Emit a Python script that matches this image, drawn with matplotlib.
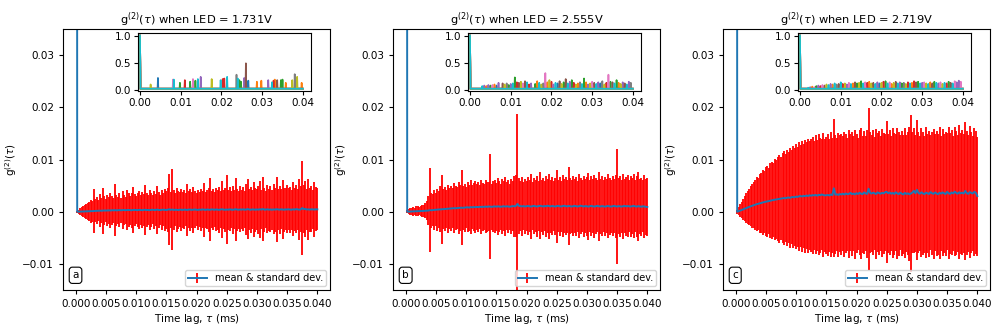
import numpy as np
import matplotlib
matplotlib.use('Agg')
import matplotlib.pyplot as plt

# lag grid (ms) for the averaged curves
tau = np.arange(161) * 0.00025

leds = ['1.731V', '2.555V', '2.719V']
panel_tags = ['a', 'b', 'c']

# mean in units of 1e-5, standard deviation in units of 1e-4
mean_a = [100000, 0, 0, 2, 3, 4, 5, 6, 8, 9,
          10, 12, 14, 15, 16, 18, 20, 19, 22, 24,
          22, 25, 26, 24, 28, 27, 30, 26, 29, 31,
          28, 30, 33, 29, 31, 34, 30, 28, 33, 35,
          32, 30, 36, 33, 29, 35, 37, 32, 34, 30,
          36, 38, 33, 35, 40, 34, 31, 37, 39, 35,
          33, 38, 45, 36, 42, 34, 39, 37, 33, 40,
          38, 35, 41, 37, 34, 42, 39, 36, 40, 43,
          37, 35, 41, 38, 44, 39, 36, 42, 40, 37,
          45, 41, 38, 43, 39, 36, 44, 47, 40, 38,
          42, 39, 45, 41, 37, 43, 48, 40, 38, 44,
          41, 46, 39, 43, 50, 42, 38, 45, 41, 39,
          44, 40, 47, 42, 52, 39, 43, 46, 40, 44,
          38, 45, 41, 48, 43, 40, 46, 42, 39, 45,
          43, 47, 41, 39, 46, 42, 50, 44, 40, 45,
          70, 48, 55, 43, 46, 41, 47, 44, 42, 46,
          45]
std_a = [0, 2, 4, 6, 8, 10, 12, 14, 16, 18,
         22, 20, 42, 22, 26, 20, 32, 24, 44, 28,
         22, 30, 26, 34, 28, 24, 50, 30, 26, 32,
         24, 36, 28, 26, 38, 32, 28, 34, 44, 30,
         26, 32, 36, 28, 34, 30, 48, 32, 28, 38,
         32, 28, 36, 30, 46, 34, 28, 38, 32, 40,
         36, 42, 68, 34, 78, 38, 32, 42, 36, 34,
         40, 34, 38, 32, 50, 36, 40, 34, 44, 36,
         32, 38, 34, 40, 36, 52, 34, 38, 42, 60,
         36, 40, 34, 42, 38, 44, 36, 55, 38, 42,
         66, 38, 42, 36, 46, 38, 60, 40, 36, 44,
         38, 42, 36, 48, 58, 40, 44, 38, 52, 42,
         40, 46, 55, 38, 62, 42, 36, 46, 40, 44,
         38, 48, 42, 62, 40, 46, 38, 56, 42, 40,
         46, 40, 44, 38, 52, 42, 46, 40, 58, 44,
         90, 46, 54, 40, 58, 42, 44, 38, 52, 42,
         40]

mean_b = [100000, 0, 2, 4, 5, 6, 8, 9, 10, 12,
          13, 15, 16, 18, 20, 22, 30, 28, 32, 35,
          38, 40, 42, 45, 48, 50, 52, 55, 58, 60,
          62, 65, 68, 66, 70, 72, 75, 78, 74, 80,
          82, 85, 80, 88, 84, 90, 86, 92, 88, 95,
          90, 96, 92, 98, 94, 100, 96, 93, 99, 102,
          97, 103, 99, 95, 101, 105, 98, 104, 100, 96,
          102, 108, 104, 110, 150, 112, 106, 102, 108, 100,
          105, 110, 103, 98, 107, 112, 104, 100, 108, 113,
          106, 101, 109, 104, 115, 107, 102, 110, 105, 99,
          108, 112, 104, 100, 109, 114, 106, 102, 110, 105,
          99, 107, 112, 104, 100, 108, 115, 106, 101, 109,
          104, 98, 107, 111, 103, 99, 106, 112, 104, 100,
          108, 103, 97, 105, 110, 102, 98, 106, 112, 104,
          100, 107, 103, 98, 106, 111, 102, 108, 104, 99,
          106, 112, 103, 98, 107, 101, 95, 104, 99, 93,
          90]
std_b = [0, 3, 5, 7, 6, 8, 7, 10, 9, 8,
         10, 12, 11, 14, 18, 28, 80, 34, 30, 38,
         32, 40, 36, 44, 66, 38, 42, 36, 46, 40,
         44, 38, 48, 42, 40, 50, 44, 72, 42, 46,
         40, 48, 44, 52, 42, 46, 50, 44, 48, 42,
         52, 46, 44, 50, 48, 46, 100, 44, 48, 50,
         46, 54, 48, 44, 52, 48, 56, 46, 50, 44,
         52, 48, 58, 60, 172, 54, 48, 56, 46, 52,
         48, 56, 50, 62, 46, 54, 50, 58, 48, 64,
         50, 54, 48, 58, 52, 62, 50, 56, 48, 54,
         70, 50, 56, 48, 60, 52, 56, 50, 74, 54,
         50, 58, 52, 56, 48, 62, 54, 50, 58, 52,
         56, 64, 50, 58, 52, 60, 54, 50, 66, 52,
         58, 50, 56, 52, 62, 54, 50, 58, 52, 60,
         110, 54, 58, 50, 62, 52, 56, 60, 50, 58,
         54, 62, 50, 58, 66, 52, 56, 50, 60, 54,
         56]

mean_c = [100000, 0, 10, 22, 34, 46, 58, 70, 82, 94,
          105, 115, 125, 135, 145, 152, 160, 170, 178, 185,
          192, 200, 205, 212, 218, 225, 230, 236, 240, 246,
          250, 256, 262, 258, 268, 272, 266, 278, 282, 276,
          290, 284, 296, 300, 292, 305, 298, 310, 302, 315,
          306, 318, 312, 322, 308, 325, 316, 330, 320, 312,
          315, 320, 312, 330, 318, 450, 325, 335, 322, 340,
          330, 345, 328, 350, 335, 342, 360, 338, 348, 332,
          355, 340, 362, 345, 338, 370, 350, 342, 440, 360,
          348, 365, 352, 340, 370, 358, 345, 362, 350, 375,
          380, 355, 368, 345, 360, 340, 372, 350, 338, 365,
          345, 330, 360, 340, 352, 335, 348, 368, 400, 355,
          420, 360, 345, 372, 350, 338, 365, 352, 340, 375,
          355, 342, 368, 350, 335, 362, 348, 370, 352, 340,
          380, 355, 342, 368, 350, 385, 360, 345, 372, 352,
          365, 348, 400, 358, 342, 375, 360, 350, 380, 362,
          300]
std_c = [0, 4, 8, 12, 16, 20, 24, 28, 32, 34,
         38, 42, 44, 48, 52, 50, 56, 58, 62, 60,
         66, 68, 64, 72, 74, 70, 78, 76, 80, 84,
         80, 86, 90, 84, 92, 88, 96, 90, 98, 94,
         100, 96, 104, 98, 106, 100, 108, 102, 110, 104,
         108, 112, 104, 114, 106, 116, 110, 106, 118, 108,
         112, 116, 108, 120, 110, 132, 114, 108, 118, 112,
         116, 110, 120, 114, 108, 122, 112, 118, 110, 124,
         114, 108, 120, 126, 112, 118, 110, 122, 155, 116,
         112, 120, 108, 124, 114, 118, 110, 122, 116, 112,
         136, 114, 120, 110, 124, 116, 112, 126, 118, 110,
         120, 114, 124, 112, 118, 128, 150, 116, 120, 112,
         134, 116, 110, 124, 118, 112, 126, 114, 120, 110,
         118, 124, 112, 120, 116, 126, 110, 122, 114, 118,
         112, 126, 116, 120, 110, 124, 118, 112, 128, 116,
         120, 114, 132, 118, 112, 126, 116, 110, 122, 118,
         114]

# individual runs (inset): spikes above the baseline, (tau, height, colour index)
spikes_a = [(0.0026, 0.10, 8), (0.0044, 0.22, 0), (0.0081, 0.19, 6), (0.0083, 0.19, 9),
            (0.0098, 0.13, 2), (0.0110, 0.18, 3), (0.0123, 0.15, 2), (0.0130, 0.20, 6),
            (0.0136, 0.17, 2), (0.0142, 0.20, 9), (0.0149, 0.24, 4), (0.0176, 0.20, 8),
            (0.0198, 0.18, 9), (0.0203, 0.20, 3), (0.0207, 0.21, 3), (0.0214, 0.24, 9),
            (0.0237, 0.28, 7), (0.0240, 0.21, 9), (0.0244, 0.18, 2), (0.0248, 0.15, 2),
            (0.0256, 0.22, 4), (0.0260, 0.49, 5), (0.0266, 0.17, 0), (0.0287, 0.15, 1),
            (0.0298, 0.17, 1), (0.0315, 0.18, 4), (0.0324, 0.14, 9), (0.0328, 0.17, 3),
            (0.0331, 0.19, 1), (0.0337, 0.18, 5), (0.0346, 0.18, 2), (0.0350, 0.19, 2),
            (0.0358, 0.13, 1), (0.0374, 0.18, 8), (0.0380, 0.29, 7), (0.0386, 0.24, 8),
            (0.0397, 0.13, 1)]
spikes_b = [(0.0030, 0.07, 9), (0.0035, 0.08, 4), (0.0040, 0.07, 1), (0.0045, 0.09, 4),
            (0.0050, 0.08, 2), (0.0055, 0.09, 6), (0.0060, 0.10, 1), (0.0065, 0.08, 0),
            (0.0070, 0.13, 4), (0.0080, 0.12, 5), (0.0085, 0.10, 8), (0.0090, 0.12, 7),
            (0.0095, 0.09, 2), (0.0100, 0.11, 4), (0.0105, 0.12, 9), (0.0110, 0.23, 2),
            (0.0115, 0.14, 3), (0.0120, 0.13, 5), (0.0125, 0.15, 8), (0.0130, 0.12, 6),
            (0.0135, 0.16, 5), (0.0140, 0.14, 9), (0.0145, 0.10, 3), (0.0150, 0.12, 4),
            (0.0160, 0.11, 2), (0.0165, 0.16, 1), (0.0170, 0.13, 9), (0.0175, 0.10, 8),
            (0.0180, 0.12, 7), (0.0185, 0.31, 6), (0.0190, 0.14, 1), (0.0195, 0.18, 8),
            (0.0200, 0.15, 3), (0.0205, 0.10, 4), (0.0210, 0.13, 9), (0.0215, 0.12, 0),
            (0.0220, 0.16, 5), (0.0225, 0.11, 8), (0.0230, 0.14, 2), (0.0235, 0.20, 5),
            (0.0240, 0.12, 9), (0.0245, 0.15, 4), (0.0250, 0.18, 2), (0.0255, 0.13, 3),
            (0.0260, 0.10, 8), (0.0265, 0.12, 1), (0.0270, 0.14, 7), (0.0275, 0.11, 9),
            (0.0280, 0.21, 2), (0.0285, 0.14, 1), (0.0290, 0.10, 4), (0.0295, 0.12, 8),
            (0.0300, 0.15, 6), (0.0305, 0.13, 5), (0.0310, 0.11, 9), (0.0315, 0.14, 4),
            (0.0320, 0.12, 0), (0.0325, 0.16, 7), (0.0330, 0.10, 8), (0.0335, 0.13, 3),
            (0.0340, 0.28, 6), (0.0345, 0.15, 2), (0.0350, 0.14, 5), (0.0355, 0.12, 9),
            (0.0360, 0.18, 2), (0.0365, 0.13, 1), (0.0370, 0.11, 8), (0.0375, 0.14, 4),
            (0.0380, 0.12, 5), (0.0385, 0.10, 9), (0.0390, 0.15, 4), (0.0395, 0.13, 7)]
spikes_c = [(0.0020, 0.04, 9), (0.0025, 0.05, 4), (0.0030, 0.06, 1), (0.0035, 0.05, 6),
            (0.0040, 0.07, 2), (0.0045, 0.08, 4), (0.0050, 0.07, 3), (0.0055, 0.09, 6),
            (0.0060, 0.08, 5), (0.0065, 0.10, 8), (0.0070, 0.09, 9), (0.0075, 0.11, 4),
            (0.0080, 0.10, 1), (0.0085, 0.12, 9), (0.0090, 0.10, 7), (0.0095, 0.11, 5),
            (0.0100, 0.14, 9), (0.0105, 0.11, 3), (0.0110, 0.12, 8), (0.0115, 0.10, 4),
            (0.0120, 0.13, 6), (0.0125, 0.11, 9), (0.0130, 0.12, 1), (0.0135, 0.14, 5),
            (0.0140, 0.12, 2), (0.0145, 0.13, 8), (0.0150, 0.16, 2), (0.0155, 0.12, 9),
            (0.0160, 0.14, 6), (0.0165, 0.13, 3), (0.0170, 0.15, 1), (0.0175, 0.12, 8),
            (0.0180, 0.13, 5), (0.0185, 0.11, 9), (0.0190, 0.14, 4), (0.0195, 0.12, 0),
            (0.0200, 0.13, 8), (0.0205, 0.15, 3), (0.0210, 0.16, 2), (0.0215, 0.12, 9),
            (0.0220, 0.14, 6), (0.0225, 0.11, 1), (0.0230, 0.13, 8), (0.0235, 0.15, 5),
            (0.0240, 0.12, 9), (0.0245, 0.14, 4), (0.0250, 0.12, 2), (0.0255, 0.13, 7),
            (0.0260, 0.11, 8), (0.0265, 0.14, 3), (0.0270, 0.12, 9), (0.0275, 0.13, 1),
            (0.0280, 0.16, 3), (0.0285, 0.14, 5), (0.0290, 0.15, 2), (0.0295, 0.12, 9),
            (0.0300, 0.13, 4), (0.0305, 0.14, 6), (0.0310, 0.12, 8), (0.0315, 0.11, 9),
            (0.0320, 0.14, 1), (0.0325, 0.12, 5), (0.0330, 0.15, 2), (0.0335, 0.13, 9),
            (0.0340, 0.12, 4), (0.0345, 0.14, 6), (0.0350, 0.11, 8), (0.0355, 0.13, 9),
            (0.0360, 0.12, 3), (0.0365, 0.15, 2), (0.0370, 0.13, 5), (0.0375, 0.12, 9),
            (0.0380, 0.16, 6), (0.0385, 0.14, 4), (0.0390, 0.17, 4), (0.0395, 0.15, 6)]
run_baseline = 0.02

means = [np.array(mean_a) * 1e-5, np.array(mean_b) * 1e-5, np.array(mean_c) * 1e-5]
stds = [np.array(std_a) * 1e-4, np.array(std_b) * 1e-4, np.array(std_c) * 1e-4]
spikes = [spikes_a, spikes_b, spikes_c]
for m, s in zip(means, stds):
    assert len(m) == len(tau) and len(s) == len(tau)

fs = 7.5
fig = plt.figure(figsize=(10, 3.33), dpi=100)
lefts = [0.063, 0.393, 0.723]

tau_fine = np.arange(401) * 0.0001

for n in range(3):
    ax = fig.add_axes([lefts[n], 0.129, 0.267, 0.784])
    ax.errorbar(tau, means[n], yerr=stds[n], color='tab:blue', ecolor='red',
                elinewidth=1.3, lw=1.4, label='mean & standard dev.')
    ax.set_ylim(-0.015, 0.035)
    ax.set_xlim(-0.0021, 0.0421)
    ax.set_xticks(np.arange(9) * 0.005)
    ax.set_xticklabels(['%.3f' % v for v in np.arange(9) * 0.005])
    ax.set_yticks([-0.01, 0.0, 0.01, 0.02, 0.03])
    ax.set_yticklabels(['\u22120.01', '0.00', '0.01', '0.02', '0.03'])
    ax.tick_params(labelsize=fs, length=3)
    ax.set_title(r'g$^{(2)}(\tau)$ when LED = ' + leds[n], fontsize=8.2, pad=4)
    ax.set_xlabel(r'Time lag, $\tau$ (ms)', fontsize=fs, labelpad=2)
    ax.set_ylabel(r'g$^{(2)}(\tau)$', fontsize=fs, labelpad=2)
    ax.legend(loc='lower right', fontsize=7, borderpad=0.3, handlelength=2.0,
              borderaxespad=0.4, framealpha=0.8)
    ax.text(0.035, 0.045, panel_tags[n], transform=ax.transAxes, fontsize=fs,
            bbox=dict(boxstyle='round,pad=0.3', fc='white', ec='black', lw=0.8))

    # inset: individual runs
    ins = fig.add_axes([lefts[n] + 0.075, 0.727, 0.173, 0.174])
    for k in range(10):
        run = np.full(len(tau_fine), run_baseline)
        run[0] = 1.0
        for t, h, c in spikes[n]:
            if c == k:
                run[int(round(t / 0.0001))] = h
        ins.plot(tau_fine, run, color='C%d' % k, lw=1.2)
    ins.set_xlim(-0.0005, 0.042)
    ins.set_ylim(-0.02, 1.05)
    ins.set_xticks([0.0, 0.01, 0.02, 0.03, 0.04])
    ins.set_xticklabels(['0.00', '0.01', '0.02', '0.03', '0.04'])
    ins.set_yticks([0.0, 0.5, 1.0])
    ins.tick_params(labelsize=fs, length=3, pad=2)

plt.savefig('out.png', dpi=100)
